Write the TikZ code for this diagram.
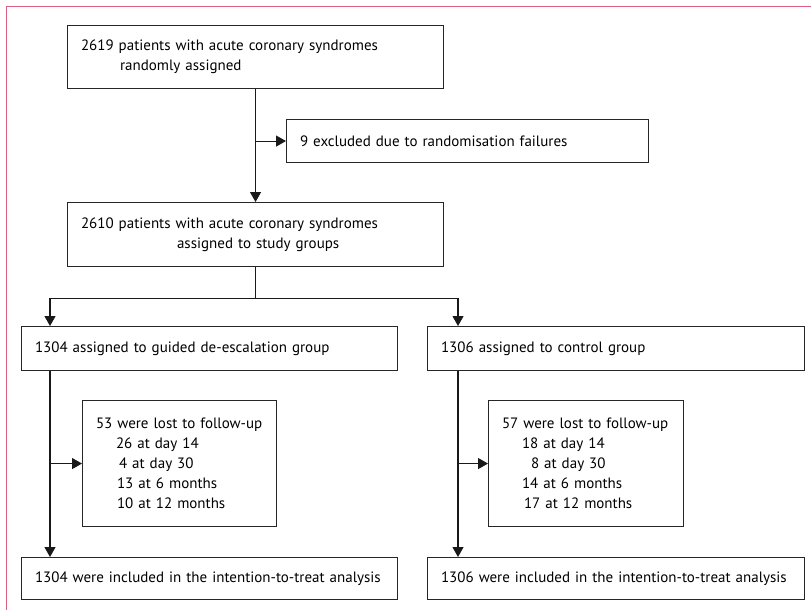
\documentclass[tikz,border=0pt]{standalone}
\usepackage{fontspec}
\setmainfont{PT Sans}[WordSpace=0.85]
\usepackage{tikz}
\usetikzlibrary{positioning,arrows.meta}
\definecolor{frame}{RGB}{219,94,130}
\tikzset{box/.style={draw=black!85,line width=1.1pt,anchor=north west,align=left,inner xsep=13.5pt,inner ysep=0pt,font=\fontsize{15pt}{20pt}\selectfont}}
\tikzset{flow/.style={line width=1.1pt,draw=black!90}}
\tikzset{arr/.style={flow,-{Triangle[length=10pt,width=11pt]}}}

\begin{document}
\begin{tikzpicture}[x=1pt,y=-1pt]
  \useasboundingbox (0,0) rectangle (811,610);
  % frame
  \draw[frame,line width=1.6pt] (811,6.5) -- (6.5,6.5) -- (6.5,610);

  % boxes
  \node[box,text width=349pt,minimum height=63pt] (rand) at (67,25)
    {2619 patients with acute coronary syndromes\\\hspace*{39pt}randomly assigned};
  \node[box,text width=335pt,minimum height=43pt] (excl) at (286,119)
    {9 excluded due to randomisation failures};
  \node[box,text width=349pt,minimum height=64pt] (assign) at (67,202)
    {2610 patients with acute coronary syndromes\\\hspace*{96pt}assigned to study groups};
  \node[box,text width=349pt,minimum height=44pt] (guided) at (21,326)
    {1304 assigned to guided de-escalation group};
  \node[box,text width=350pt,minimum height=44pt] (control) at (427,326)
    {1306 assigned to control group};
  \node[box,text width=167pt,minimum height=126pt] (lostG) at (82,400)
    {53 were lost to follow-up\\\hspace*{20pt}26 at day 14\\\hspace*{23pt}4 at day 30\\\hspace*{21pt}13 at 6 months\\\hspace*{21pt}10 at 12 months};
  \node[box,text width=168pt,minimum height=126pt] (lostC) at (488,400)
    {57 were lost to follow-up\\\hspace*{20pt}18 at day 14\\\hspace*{29pt}8 at day 30\\\hspace*{20pt}14 at 6 months\\\hspace*{22pt}17 at 12 months};
  \node[box,text width=349pt,minimum height=42pt] (ittG) at (21,557)
    {1304 were included in the intention-to-treat analysis};
  \node[box,text width=350pt,minimum height=42pt] (ittC) at (427,557)
    {1306 were included in the intention-to-treat analysis};

  % connectors
  \draw[arr] (rand.south) -- (assign.north);
  \draw[arr] (rand.south |- excl.west) -- (excl.west);
  \draw[flow] (assign.south) -- ++(0,31) coordinate (split);
  \draw[arr] (split) -| ([xshift=29pt]guided.north west);
  \draw[arr] (split) -| ([xshift=31pt]control.north west);
  \draw[arr] ([xshift=29pt]guided.south west) -- ([xshift=29pt]ittG.north west);
  \draw[arr] ([xshift=29pt]guided.south west |- lostG.west) -- (lostG.west);
  \draw[arr] ([xshift=31pt]control.south west) -- ([xshift=31pt]ittC.north west);
  \draw[arr] ([xshift=31pt]control.south west |- lostC.west) -- (lostC.west);
\end{tikzpicture}
\end{document}
